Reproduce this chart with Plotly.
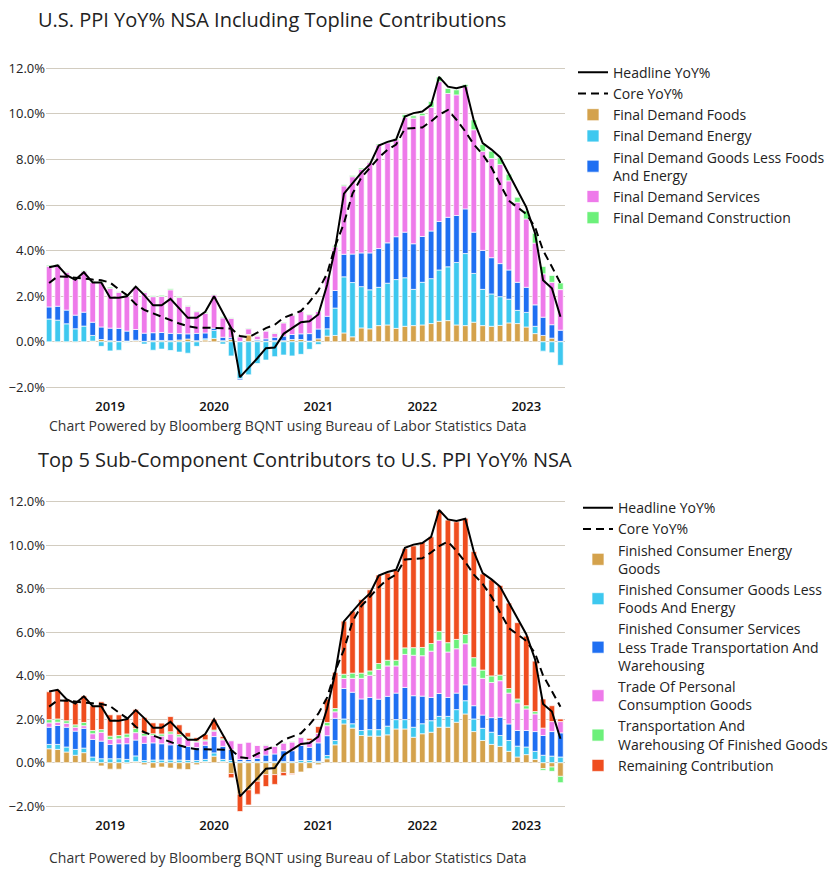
import pandas as pd
import plotly.graph_objects as go

months = pd.date_range("2018-06-01", periods=60, freq="MS")

headline = [3.27, 3.35, 2.92, 2.72, 3.05, 2.6, 2.6, 1.93, 1.93, 2.0, 2.42, 2.05, 1.6, 1.6, 1.88, 1.45, 1.05, 1.05, 1.32, 2.0,
            1.25, 0.6, -1.55, -1.15, -0.72, -0.28, -0.25, 0.35, 0.62, 0.86, 0.9, 1.2, 2.5, 4.1, 6.5, 6.95, 7.42, 7.78, 8.61, 8.77,
            8.87, 9.88, 10.03, 10.1, 10.39, 11.62, 11.19, 11.12, 11.22, 9.7, 8.72, 8.43, 8.1, 7.36, 6.64, 5.91, 4.75, 2.7, 2.35, 1.1]
core = [2.58, 2.87, 2.85, 2.8, 2.76, 2.73, 2.7, 2.6, 2.3, 2.05, 1.65, 1.4, 1.25, 1.1, 0.95, 0.8, 0.68, 0.62, 0.62, 0.6,
        0.6, 0.58, 0.25, 0.2, 0.4, 0.6, 0.75, 1.05, 1.2, 1.35, 1.75, 2.25, 3.0, 4.2, 5.2, 6.5, 7.2, 7.64, 8.07, 8.43,
        8.65, 9.35, 9.38, 9.4, 9.67, 9.96, 10.17, 9.74, 9.23, 8.65, 8.22, 7.64, 6.91, 6.19, 5.9, 5.6, 5.03, 4.01, 3.29, 2.57]

# Top chart: topline contributions
fd_foods = [0.0, -0.02, -0.02, -0.03, 0.0, 0.03, 0.1, 0.05, 0.02, 0.03, 0.05, 0.02, 0.05, 0.06, 0.05, 0.08, 0.12, 0.05, 0.08, 0.15,
            0.05, 0.1, 0.02, 0.3, 0.05, 0.03, 0.05, 0.05, 0.1, 0.1, 0.03, 0.13, 0.25, 0.28, 0.39, 0.22, 0.61, 0.57, 0.71, 0.74,
            0.59, 0.68, 0.71, 0.74, 0.8, 0.9, 0.93, 0.74, 0.71, 0.86, 0.71, 0.68, 0.72, 0.83, 0.8, 0.65, 0.36, 0.28, 0.16, 0.02]
fd_energy = [1.0, 0.95, 0.79, 0.57, 0.69, 0.25, -0.2, -0.4, -0.37, -0.03, 0.02, -0.1, -0.37, -0.32, -0.38, -0.45, -0.5, -0.2, 0.05, 0.35,
             -0.1, -0.62, -1.62, -1.45, -0.95, -0.8, -0.65, -0.58, -0.62, -0.55, -0.33, -0.12, 0.32, 1.2, 2.46, 2.38, 1.81, 1.71, 1.68, 1.83,
             2.14, 2.13, 1.59, 1.87, 1.97, 2.25, 2.36, 2.74, 3.16, 2.14, 1.59, 1.42, 1.26, 1.04, 0.58, 0.64, 0.32, -0.41, -0.48, -1.03]
fd_goods = [0.53, 0.61, 0.6, 0.6, 0.61, 0.58, 0.55, 0.55, 0.57, 0.44, 0.47, 0.36, 0.35, 0.35, 0.32, 0.28, 0.23, 0.32, 0.26, 0.1,
            0.15, 0.08, -0.05, 0.02, 0.05, 0.1, 0.15, 0.2, 0.22, 0.25, 0.33, 0.43, 0.55, 0.77, 0.99, 1.25, 1.48, 1.62, 1.7, 1.77,
            1.88, 2.0, 2.0, 2.01, 2.09, 2.13, 2.17, 2.06, 1.96, 1.81, 1.71, 1.59, 1.45, 1.28, 1.23, 1.1, 0.94, 0.8, 0.59, 0.49]
fd_services = [1.78, 1.82, 1.66, 1.59, 1.8, 1.75, 1.94, 1.75, 1.58, 1.53, 1.87, 1.78, 1.58, 1.58, 1.91, 1.58, 1.21, 0.95, 0.86, 1.45,
               0.85, 0.85, 0.2, 0.25, 0.15, 0.34, 0.17, 0.58, 0.85, 0.99, 0.83, 0.77, 1.74, 1.91, 3.0, 3.39, 3.67, 3.96, 4.54, 4.39,
               4.25, 5.03, 5.51, 5.3, 5.42, 6.13, 5.43, 5.29, 5.36, 4.49, 4.35, 4.35, 4.35, 3.91, 3.51, 3.0, 2.71, 1.9, 1.86, 1.78]
fd_construction = [0.05, 0.03, 0.03, 0.03, 0.03, 0.05, 0.05, 0.05, 0.03, 0.03, 0.03, 0.03, 0.04, 0.05, 0.05, 0.05, 0.03, 0.03, 0.05, 0.03,
                   0.05, 0.03, 0.03, 0.03, 0.03, 0.03, 0.03, 0.03, 0.03, 0.03, 0.03, 0.03, 0.03, 0.05, 0.05, 0.05, 0.05, 0.05, 0.05, 0.05,
                   0.05, 0.12, 0.1, 0.1, 0.26, 0.2, 0.22, 0.22, 0.1, 0.43, 0.29, 0.32, 0.29, 0.29, 0.22, 0.36, 0.43, 0.32, 0.3, 0.29]

# Bottom chart: sub-component contributions
energy_goods = [0.64, 0.61, 0.49, 0.34, 0.46, 0.06, -0.15, -0.3, -0.3, -0.05, 0.05, -0.1, -0.25, -0.2, -0.25, -0.3, -0.32, -0.1, 0.05, 0.3,
                0.05, -0.5, -1.45, -1.25, -0.85, -0.55, -0.55, -0.45, -0.5, -0.43, -0.27, -0.1, 0.18, 0.82, 1.78, 1.59, 1.25, 1.22, 1.22, 1.28,
                1.55, 1.55, 1.17, 1.33, 1.4, 1.63, 1.63, 1.86, 2.24, 1.43, 1.02, 0.84, 0.75, 0.52, 0.26, 0.37, 0.15, -0.27, -0.2, -0.63]
goods_less = [0.2, 0.23, 0.23, 0.27, 0.21, 0.2, 0.18, 0.18, 0.18, 0.15, 0.26, 0.1, 0.12, 0.12, 0.12, 0.12, 0.1, 0.1, 0.1, 0.15,
              0.1, 0.1, 0.05, 0.05, 0.05, 0.05, 0.05, 0.05, 0.05, 0.1, 0.1, 0.06, 0.15, 0.2, 0.23, 0.2, 0.23, 0.3, 0.3, 0.4,
              0.43, 0.43, 0.46, 0.46, 0.53, 0.5, 0.5, 0.58, 0.61, 0.58, 0.56, 0.56, 0.5, 0.5, 0.5, 0.35, 0.37, 0.34, 0.3, 0.26]
services_less = [0.79, 0.87, 0.91, 0.84, 0.91, 0.81, 0.81, 0.66, 0.69, 0.72, 0.73, 0.79, 0.79, 0.75, 0.7, 0.72, 0.65, 0.6, 0.65, 0.75,
                 0.6, 0.5, 0.1, 0.1, 0.15, 0.3, 0.35, 0.5, 0.5, 0.69, 0.6, 0.85, 0.91, 1.02, 1.4, 1.45, 1.45, 1.48, 1.4, 1.37,
                 1.22, 1.48, 1.45, 1.27, 1.07, 1.05, 0.87, 0.76, 0.73, 0.61, 0.61, 0.67, 0.84, 0.76, 0.72, 0.76, 0.91, 0.91, 1.13, 1.11]
trade_goods = [0.2, 0.15, 0.18, 0.18, 0.12, 0.26, 0.41, 0.23, 0.23, 0.3, 0.34, 0.34, 0.34, 0.35, 0.5, 0.35, 0.35, 0.25, 0.2, 0.25,
               0.3, 0.41, 0.75, 0.8, 0.6, 0.45, 0.35, 0.35, 0.4, 0.38, 0.3, 0.43, 0.46, 0.3, 0.46, 0.64, 0.95, 1.02, 1.37, 1.4,
               1.25, 1.52, 1.86, 1.86, 2.13, 2.45, 2.09, 2.04, 1.89, 1.78, 1.69, 1.62, 1.68, 1.42, 1.27, 0.99, 0.81, 0.34, 0.46, 0.52]
transport = [0.15, 0.15, 0.12, 0.11, 0.15, 0.15, 0.12, 0.15, 0.15, 0.15, 0.2, 0.12, 0.08, 0.1, 0.1, 0.1, 0.08, 0.05, 0.05, 0.05,
             0.05, 0.02, 0.0, 0.0, 0.0, 0.02, 0.02, 0.03, 0.03, 0.02, 0.02, 0.02, 0.15, 0.15, 0.2, 0.24, 0.24, 0.2, 0.27, 0.26,
             0.26, 0.3, 0.35, 0.38, 0.35, 0.41, 0.43, 0.43, 0.43, 0.43, 0.38, 0.3, 0.26, 0.21, 0.18, 0.15, 0.11, -0.08, -0.2, -0.29]
remaining = [1.28, 1.34, 0.99, 1.0, 1.22, 1.14, 1.28, 0.98, 0.95, 0.72, 0.87, 0.73, 0.5, 0.5, 0.7, 0.45, 0.2, 0.15, 0.25, 0.5,
             0.1, -0.2, -0.8, -0.7, -0.6, -0.55, -0.45, -0.15, -0.05, 0.0, 0.1, 0.3, 1.07, 1.65, 2.44, 2.85, 3.38, 3.73, 4.07, 4.01,
             4.13, 4.57, 4.68, 4.84, 4.91, 5.56, 5.64, 5.41, 5.34, 4.88, 4.42, 4.42, 4.12, 3.93, 3.51, 3.2, 2.32, 1.34, 0.73, 0.12]

year_ticks = ["2019-01-01", "2020-01-01", "2021-01-01", "2022-01-01", "2023-01-01"]
year_labels = ["2019", "2020", "2021", "2022", "2023"]

TAN, CYAN, BLUE, PINK, GREEN, ORANGE = "#D4A24C", "#3EC8EF", "#1F6FF2", "#EE7AEA", "#6CF07A", "#EF4D1F"
FONT = "Open Sans"
W, H = 840, 876

top_series = [
    ("Final Demand Foods", fd_foods, TAN),
    ("Final Demand Energy", fd_energy, CYAN),
    ("Final Demand Goods Less Foods<br>And Energy", fd_goods, BLUE),
    ("Final Demand Services", fd_services, PINK),
    ("Final Demand Construction", fd_construction, GREEN),
]
bottom_series = [
    ("Finished Consumer Energy<br>Goods", energy_goods, TAN),
    ("Finished Consumer Goods Less<br>Foods And Energy", goods_less, CYAN),
    ("Finished Consumer Services<br>Less Trade Transportation And<br>Warehousing", services_less, BLUE),
    ("Trade Of Personal<br>Consumption Goods", trade_goods, PINK),
    ("Transportation And<br>Warehousing Of Finished Goods", transport, GREEN),
    ("Remaining Contribution", remaining, ORANGE),
]

fig = go.Figure()

for ax, leg in (("", "legend"), ("2", "legend2")):
    fig.add_trace(go.Scatter(x=months, y=headline, name="Headline YoY%", mode="lines",
                             line=dict(color="black", width=2), xaxis="x" + ax, yaxis="y" + ax, legend=leg))
    fig.add_trace(go.Scatter(x=months, y=core, name="Core YoY%", mode="lines",
                             line=dict(color="black", width=2, dash="8px,5px"), xaxis="x" + ax, yaxis="y" + ax, legend=leg))
    series = top_series if ax == "" else bottom_series
    for name, vals, col in series:
        fig.add_trace(go.Bar(x=months, y=vals, name=name, marker=dict(color=col, line=dict(color="white", width=0.7)),
                             xaxis="x" + ax, yaxis="y" + ax, legend=leg))

def py(p):
    return 1 - p / H

xdom = [46 / W, 565 / W]
xcommon = dict(type="date", range=["2018-05-21", "2023-05-17"], tickvals=year_ticks, ticktext=year_labels,
               showgrid=False, zeroline=False, showline=False, ticks="", ticklabelstandoff=3,
               tickfont=dict(family=FONT, size=13, color="#111", weight=600))
ycommon = dict(range=[-2.3, 12.3], dtick=2, tick0=0, tickformat=".1f", ticksuffix="%", showgrid=True,
               gridcolor="#D2CCC0", gridwidth=1, zeroline=False, showline=False, ticks="",
               tickfont=dict(family=FONT, size=13, color="#222"))

fig.update_layout(
    width=W, height=H, margin=dict(l=0, r=0, t=0, b=0),
    paper_bgcolor="white", plot_bgcolor="white",
    barmode="relative", bargap=0.3,
    font=dict(family=FONT, color="#222"),
    xaxis=dict(domain=xdom, anchor="y", **xcommon),
    yaxis=dict(domain=[py(393.5), py(58.7)], anchor="x", **ycommon),
    xaxis2=dict(domain=xdom, anchor="y2", **xcommon),
    yaxis2=dict(domain=[py(814.3), py(495.1)], anchor="x2", **ycommon),
    legend=dict(x=573 / W, y=py(54), xanchor="left", yanchor="top", traceorder="normal", itemwidth=30,
                font=dict(family=FONT, size=14, color="#222"), bgcolor="rgba(0,0,0,0)"),
    legend2=dict(x=578 / W, y=py(492), xanchor="left", yanchor="top", traceorder="normal", itemwidth=30,
                 font=dict(family=FONT, size=14, color="#222"), bgcolor="rgba(0,0,0,0)"),
    showlegend=True,
    annotations=[
        dict(text="U.S. PPI YoY% NSA Including Topline Contributions", x=36 / W, y=py(17), xref="paper", yref="paper",
             xanchor="left", yanchor="middle", showarrow=False, font=dict(family=FONT, size=20, color="#222")),
        dict(text="Top 5 Sub-Component Contributors to U.S. PPI YoY% NSA", x=36 / W, y=py(459), xref="paper", yref="paper",
             xanchor="left", yanchor="middle", showarrow=False, font=dict(family=FONT, size=20, color="#222")),
        dict(text="Chart Powered by Bloomberg BQNT using Bureau of Labor Statistics Data", x=47 / W, y=py(425),
             xref="paper", yref="paper", xanchor="left", yanchor="middle", showarrow=False,
             font=dict(family=FONT, size=14, color="#333")),
        dict(text="Chart Powered by Bloomberg BQNT using Bureau of Labor Statistics Data", x=47 / W, y=py(859),
             xref="paper", yref="paper", xanchor="left", yanchor="middle", showarrow=False,
             font=dict(family=FONT, size=14, color="#333")),
    ],
)

fig.write_html("out.html", config={"displayModeBar": False},
               post_script="document.body.style.margin='0';document.body.style.overflow='hidden';")
